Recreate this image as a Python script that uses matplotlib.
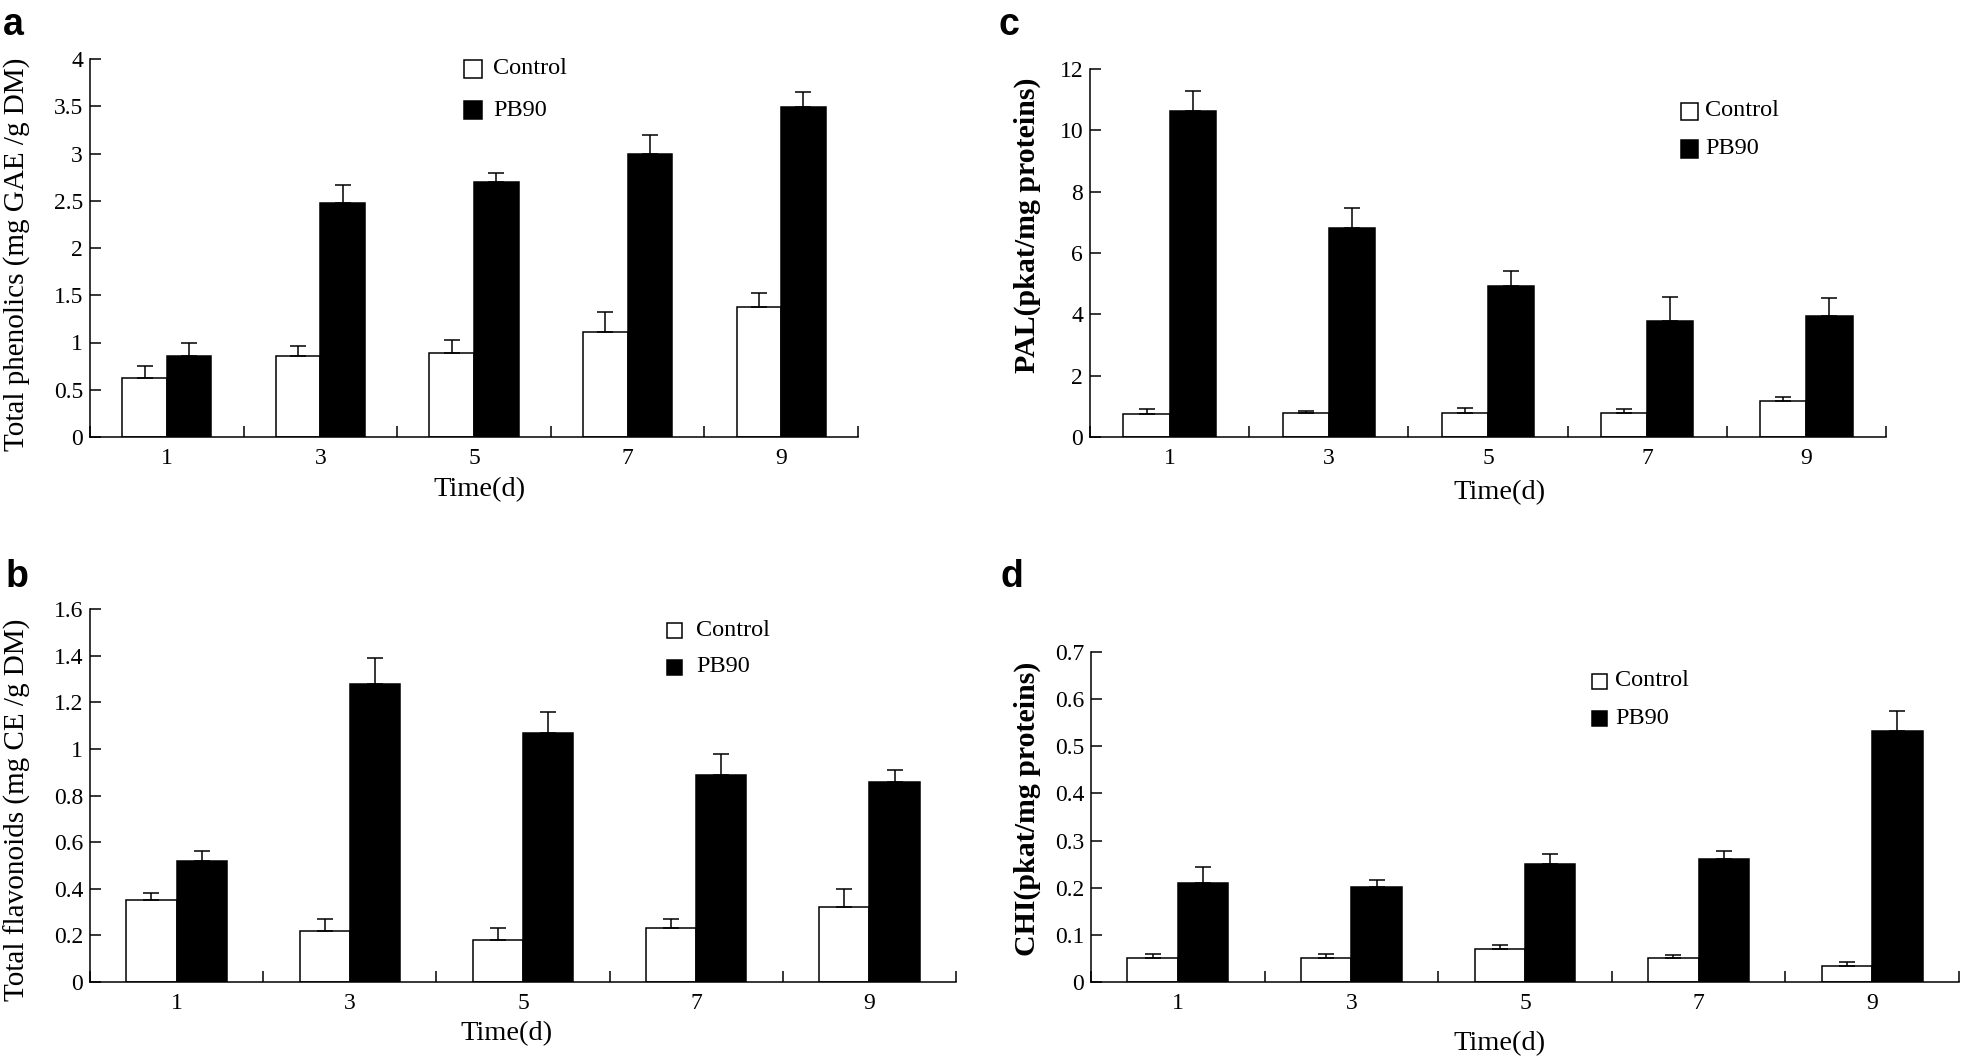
import numpy as np
import matplotlib
matplotlib.use("Agg")
from matplotlib import pyplot as plt
from matplotlib.patches import Rectangle
from matplotlib.ticker import FixedLocator

plt.rcParams['font.family'] = ['Liberation Serif', 'DejaVu Serif']

W, H = 1961, 1062

# data
days = ['1', '3', '5', '7', '9']

phen_ctrl = [0.62, 0.86, 0.89, 1.11, 1.38]
phen_ctrl_err = [0.13, 0.10, 0.14, 0.21, 0.14]
phen_pb = [0.86, 2.48, 2.70, 2.99, 3.49]
phen_pb_err = [0.14, 0.19, 0.09, 0.21, 0.16]

flav_ctrl = [0.35, 0.22, 0.18, 0.23, 0.32]
flav_ctrl_err = [0.03, 0.05, 0.05, 0.04, 0.08]
flav_pb = [0.52, 1.28, 1.07, 0.89, 0.86]
flav_pb_err = [0.04, 0.11, 0.09, 0.09, 0.05]

pal_ctrl = [0.74, 0.78, 0.78, 0.78, 1.19]
pal_ctrl_err = [0.17, 0.08, 0.17, 0.13, 0.12]
pal_pb = [10.62, 6.82, 4.92, 3.79, 3.93]
pal_pb_err = [0.65, 0.65, 0.48, 0.78, 0.60]

chi_ctrl = [0.051, 0.051, 0.069, 0.051, 0.034]
chi_ctrl_err = [0.009, 0.009, 0.009, 0.007, 0.008]
chi_pb = [0.210, 0.202, 0.250, 0.260, 0.533]
chi_pb_err = [0.034, 0.015, 0.021, 0.017, 0.042]

fig = plt.figure(figsize=(W / 100, H / 100), dpi=100)


def px_axes(left, top, right, bottom):
    # axes from pixel box
    return fig.add_axes([left / W, 1 - bottom / H, (right - left) / W, (bottom - top) / H])


def fx(x):
    return x / W


def fy(y):
    return 1 - y / H


def panel(ax, ctrl, ctrl_err, pb, pb_err, ymax, yticks, ylabels):
    x = np.arange(len(days))
    bw = 0.29
    ax.bar(x - bw / 2, ctrl, bw, color='white', edgecolor='black', linewidth=1.1, zorder=2)
    ax.bar(x + bw / 2, pb, bw, color='black', edgecolor='black', linewidth=1.1, zorder=2)
    ax.errorbar(x - bw / 2, ctrl, yerr=[np.zeros(len(x)), ctrl_err], fmt='none',
                ecolor='black', elinewidth=1.1, capsize=6, capthick=1.1, zorder=3)
    ax.errorbar(x + bw / 2, pb, yerr=[np.zeros(len(x)), pb_err], fmt='none',
                ecolor='black', elinewidth=1.1, capsize=6, capthick=1.1, zorder=3)
    ax.set_xlim(-0.5, len(days) - 0.5)
    ax.set_ylim(0, ymax)
    ax.set_xticks(x)
    ax.set_xticklabels(days, fontsize=17)
    ax.xaxis.set_minor_locator(FixedLocator(np.arange(len(days) + 1) - 0.5))
    ax.tick_params(axis='x', which='major', length=0, pad=8)
    ax.tick_params(axis='x', which='minor', direction='in', length=8, width=1.1)
    ax.set_yticks(yticks)
    ax.set_yticklabels(ylabels, fontsize=17)
    ax.tick_params(axis='y', direction='in', length=8, width=1.1, pad=5)
    for s in ['top', 'right']:
        ax.spines[s].set_visible(False)
    for s in ['left', 'bottom']:
        ax.spines[s].set_linewidth(1.1)
    ax.patch.set_alpha(0)


def legend(sq_x, rows, size, text_x):
    for (y, fc) in zip(rows, ['white', 'black']):
        fig.patches.append(Rectangle((fx(sq_x), fy(y + size / 2)), size / W, size / H,
                                     facecolor=fc, edgecolor='black', linewidth=1.1,
                                     transform=fig.transFigure, figure=fig))
    fig.text(fx(text_x), fy(rows[0]), 'Control', fontsize=17.5, va='center', ha='left')
    fig.text(fx(text_x), fy(rows[1]), 'PB90', fontsize=17.5, va='center', ha='left')


def labels(ax, xlabel, xpos, ylabel, ypos, bold=False):
    ax.set_xlabel(xlabel, fontsize=20.5)
    ax.xaxis.set_label_coords(fx(xpos[0]), fy(xpos[1]), transform=fig.transFigure)
    ax.xaxis.label.set_va('center')
    ax.set_ylabel(ylabel, fontsize=21.5 if bold else 21, fontweight='bold' if bold else 'normal')
    ax.yaxis.set_label_coords(fx(ypos[0]), fy(ypos[1]), transform=fig.transFigure)
    ax.yaxis.label.set_va('center')


# a - total phenolics
ax_a = px_axes(90, 59, 858, 437)
panel(ax_a, phen_ctrl, phen_ctrl_err, phen_pb, phen_pb_err, 4,
      np.arange(0, 4.01, 0.5), ['0', '0.5', '1', '1.5', '2', '2.5', '3', '3.5', '4'])
labels(ax_a, 'Time(d)', (480, 490), 'Total phenolics (mg GAE /g DM)', (17, 254))
legend(464, [69, 110], 18, 493)

# c - PAL
ax_c = px_axes(1090, 69, 1886, 437)
panel(ax_c, pal_ctrl, pal_ctrl_err, pal_pb, pal_pb_err, 12,
      np.arange(0, 12.1, 2), ['0', '2', '4', '6', '8', '10', '12'])
labels(ax_c, 'Time(d)', (1499, 493), 'PAL(pkat/mg proteins)', (1027, 225), bold=True)
legend(1681, [111, 149], 17, 1705)

# b - total flavonoids
ax_b = px_axes(90, 609, 956, 982)
panel(ax_b, flav_ctrl, flav_ctrl_err, flav_pb, flav_pb_err, 1.6,
      np.arange(0, 1.61, 0.2), ['0', '0.2', '0.4', '0.6', '0.8', '1', '1.2', '1.4', '1.6'])
labels(ax_b, 'Time(d)', (507, 1034), 'Total flavonoids (mg CE /g DM)', (17, 810))
legend(667, [630, 667], 15, 696)

# d - CHI
ax_d = px_axes(1091, 652, 1959, 982)
panel(ax_d, chi_ctrl, chi_ctrl_err, chi_pb, chi_pb_err, 0.7,
      np.arange(0, 0.71, 0.1), ['0', '0.1', '0.2', '0.3', '0.4', '0.5', '0.6', '0.7'])
labels(ax_d, 'Time(d)', (1499, 1044), 'CHI(pkat/mg proteins)', (1027, 809), bold=True)
legend(1592, [681, 718], 15, 1615)

# panel letters
for letter, x, y in [('a', 3, 35), ('b', 6, 587), ('c', 998, 35), ('d', 1001, 587)]:
    fig.text(fx(x), fy(y), letter, fontsize=27, fontweight='bold', va='baseline', ha='left',
             family=['Liberation Sans', 'DejaVu Sans'])

fig.savefig('out.png', dpi=100)
